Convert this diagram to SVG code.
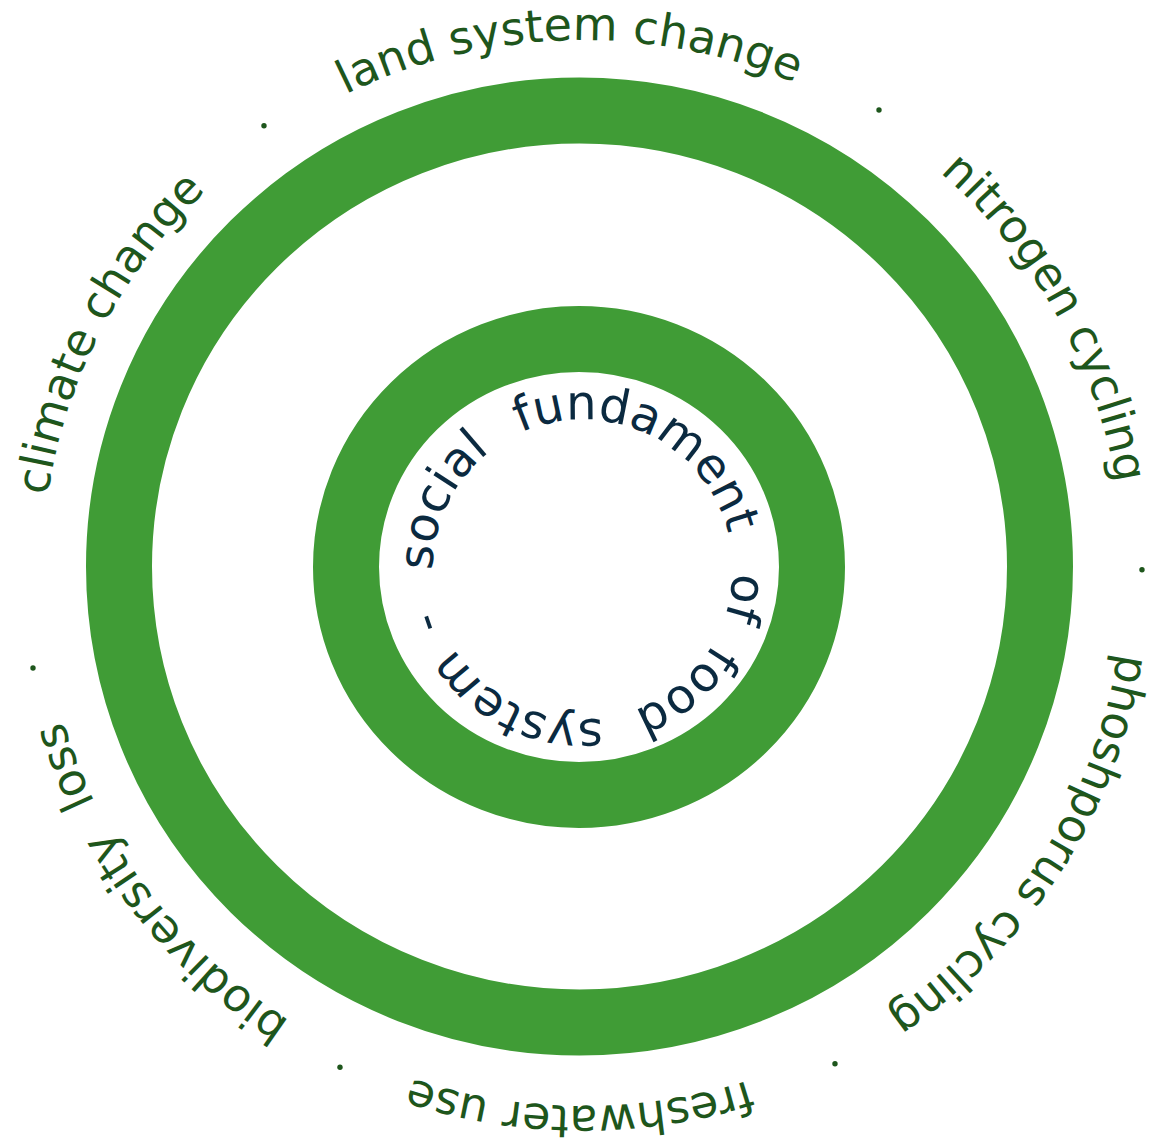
<svg xmlns="http://www.w3.org/2000/svg" xmlns:xlink="http://www.w3.org/1999/xlink" width="1156" height="1148" viewBox="0 0 1156 1148">
<style>
.ring{fill:none;stroke:#409c36;stroke-width:66}
.outer{font-family:"DejaVu Sans","Liberation Sans",sans-serif;font-size:46px;fill:#1e561c}
.inner{font-family:"DejaVu Sans","Liberation Sans",sans-serif;font-size:48px;fill:#0b2a40}
.dot{fill:#1e561c}
</style>
<defs>
<path id="outerPath" d="M0,-541 A541,541 0 1,1 0,541 A541,541 0 1,1 0,-541 A541,541 0 1,1 0,541 A541,541 0 1,1 0,-541"/>
<path id="innerPath" d="M582.5,419.5 A150,150 0 1,1 582.5,719.5 A150,150 0 1,1 582.5,419.5 A150,150 0 1,1 582.5,719.5 A150,150 0 1,1 582.5,419.5"/>
</defs>
<rect width="1156" height="1148" fill="#ffffff"/>
<g id="outer-ring"><ellipse class="ring" cx="579.5" cy="566.5" rx="460.5" ry="456"/></g>
<g id="inner-ring"><ellipse class="ring" cx="579" cy="567" rx="233" ry="228"/></g>
<g id="boundary-labels" transform="translate(583,573) scale(1,0.985)">
<g id="label-land"><text class="outer" text-anchor="middle"><textPath xlink:href="#outerPath" href="#outerPath" startOffset="3385">land system change</textPath></text></g>
<g id="label-nitrogen"><text class="outer" text-anchor="middle"><textPath xlink:href="#outerPath" href="#outerPath" startOffset="574">nitrogen cycling</textPath></text></g>
<g id="label-phosphorus"><text class="outer" text-anchor="middle"><textPath xlink:href="#outerPath" href="#outerPath" startOffset="1154">phoshporus cycling</textPath></text></g>
<g id="label-freshwater"><text class="outer" text-anchor="middle"><textPath xlink:href="#outerPath" href="#outerPath" startOffset="1703">freshwater use</textPath></text></g>
<g id="label-biodiversity"><text class="outer" text-anchor="middle"><textPath xlink:href="#outerPath" href="#outerPath" startOffset="2203">biodiversity<tspan dx="16"> loss</tspan></textPath></text></g>
<g id="label-climate"><text class="outer" text-anchor="middle"><textPath xlink:href="#outerPath" href="#outerPath" startOffset="2805">climate change</textPath></text></g>
</g>
<g id="separators">
<circle class="dot" cx="264" cy="125.7" r="2.7"/>
<circle class="dot" cx="879" cy="110" r="2.7"/>
<circle class="dot" cx="1142" cy="569.7" r="2.7"/>
<circle class="dot" cx="835" cy="1063.7" r="2.7"/>
<circle class="dot" cx="340" cy="1067.3" r="2.7"/>
<circle class="dot" cx="33" cy="668" r="2.7"/>
</g>
<g id="center-label">
<text class="inner" text-anchor="middle"><textPath xlink:href="#innerPath" href="#innerPath" startOffset="774">social</textPath></text>
<text class="inner" text-anchor="middle"><textPath xlink:href="#innerPath" href="#innerPath" startOffset="1010">fundament</textPath></text>
<text class="inner" text-anchor="middle"><textPath xlink:href="#innerPath" href="#innerPath" startOffset="262">of</textPath></text>
<text class="inner" text-anchor="middle"><textPath xlink:href="#innerPath" href="#innerPath" startOffset="366">food</textPath></text>
<text class="inner" text-anchor="middle"><textPath xlink:href="#innerPath" href="#innerPath" startOffset="538">system</textPath></text>
<text class="inner" text-anchor="middle"><textPath xlink:href="#innerPath" href="#innerPath" startOffset="657">-</textPath></text>
</g>
</svg>
